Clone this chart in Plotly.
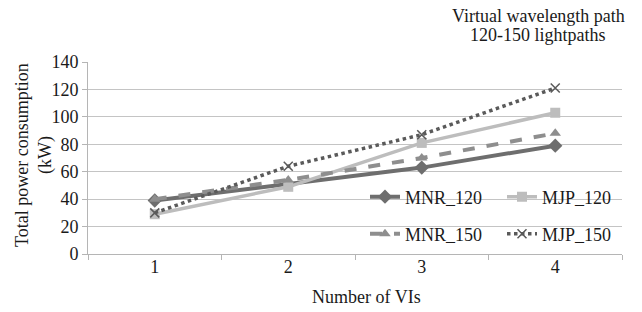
import plotly.graph_objects as go

categories = [1, 2, 3, 4]
tick_labels = ["1", "2", "3", "4"]
mnr_120 = [39, 51, 63, 79]
mjp_120 = [29, 49, 81, 103]
mnr_150 = [40, 54, 70, 88]
mjp_150 = [30, 64, 87, 121]

FONT = "Liberation Serif"
TXT = "#1a1a1a"
# page has an 8px body margin; plot area spans page x 88..622, y 62..254
PX0, PX1, PY0, PY1 = 88, 622, 62, 254


def px(x):
    return (x - PX0) / (PX1 - PX0)


def py(y):
    return (PY1 - y) / (PY1 - PY0)


fig = go.Figure()
fig.add_trace(go.Scatter(x=categories, y=mnr_120, name="MNR_120", mode="lines+markers",
                         line=dict(color="#6e6e6e", width=4),
                         marker=dict(symbol="diamond", size=11, color="#6e6e6e"),
                         legend="legend"))
fig.add_trace(go.Scatter(x=categories, y=mjp_120, name="MJP_120", mode="lines+markers",
                         line=dict(color="#bdbdbd", width=3.5),
                         marker=dict(symbol="square", size=10, color="#bdbdbd"),
                         legend="legend"))
fig.add_trace(go.Scatter(x=categories, y=mnr_150, name="MNR_150", mode="lines+markers",
                         line=dict(color="#8e8e8e", width=4, dash="dash"),
                         marker=dict(symbol="triangle-up", size=10, color="#8e8e8e"),
                         legend="legend2"))
fig.add_trace(go.Scatter(x=categories, y=mjp_150, name="MJP_150", mode="lines+markers",
                         line=dict(color="#5a5a5a", width=3.5, dash="dot"),
                         marker=dict(symbol="x-thin", size=9, color="#5a5a5a",
                                     line=dict(color="#5a5a5a", width=1.5)),
                         legend="legend2"))

legend_common = dict(orientation="h", bgcolor="rgba(0,0,0,0)", xanchor="left", yanchor="middle",
                     font=dict(family=FONT, size=18, color=TXT), entrywidth=92,
                     itemwidth=30, tracegroupgap=0)
fig.update_layout(
    width=634, height=304,
    margin=dict(l=80, r=20, t=54, b=58, autoexpand=False),
    paper_bgcolor="white", plot_bgcolor="white",
    font=dict(family=FONT, size=18, color=TXT),
    showlegend=True,
    legend=dict(x=px(365), y=py(197), **legend_common),
    legend2=dict(x=px(365), y=py(234), **legend_common),
    xaxis=dict(range=[0.5, 4.5], tickvals=categories, ticktext=tick_labels, ticks="",
               automargin=False, ticklabelstandoff=-4,
               showgrid=False, zeroline=False, showline=True, linecolor="#b5b5b5", linewidth=1,
               minor=dict(tickvals=[0.5, 1.5, 2.5, 3.5, 4.5], ticks="outside", ticklen=5,
                          tickcolor="#b5b5b5", showgrid=False),
               tickfont=dict(family=FONT, size=18, color=TXT)),
    yaxis=dict(range=[0, 140], dtick=20, ticks="outside", ticklen=5, tickcolor="#b5b5b5",
               automargin=False,
               showgrid=True, gridcolor="#c4c4c4", gridwidth=1, zeroline=False,
               showline=True, linecolor="#b5b5b5", linewidth=1,
               tickfont=dict(family=FONT, size=18, color=TXT)),
)


def label(text, x, y, angle=0):
    fig.add_annotation(text=text, textangle=angle, xref="paper", yref="paper",
                       x=px(x), y=py(y), xanchor="center", yanchor="middle",
                       showarrow=False, font=dict(family=FONT, size=18, color=TXT))


label("Total power consumption", 22, 155, -90)
label("(kW)", 45, 155, -90)
label("Number of VIs", 366, 297)
label("Virtual wavelength path", 538, 16)
label("120-150 lightpaths", 538, 35)

fig.write_html("out.html")
